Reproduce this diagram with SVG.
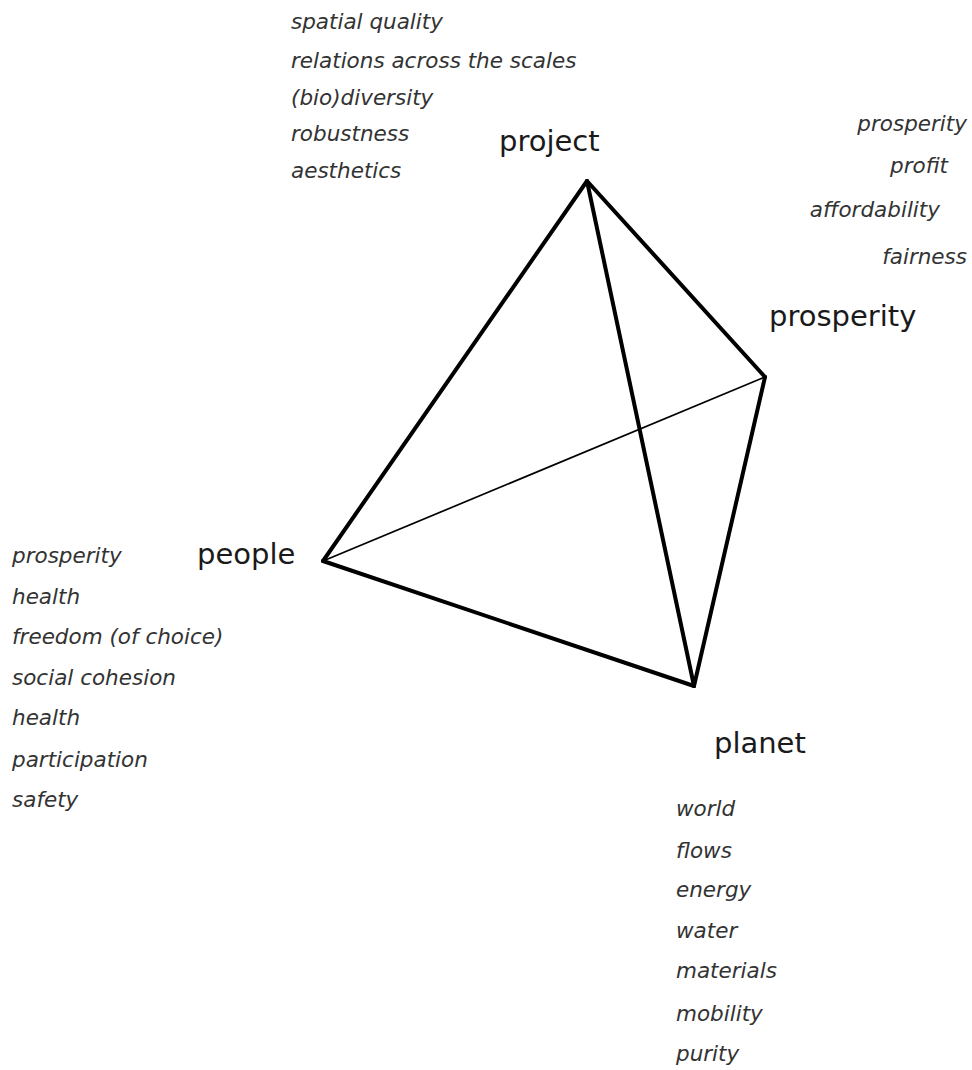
<svg xmlns="http://www.w3.org/2000/svg" width="972" height="1070" viewBox="0 0 972 1070">
<style>
.lbl{font-family:"DejaVu Sans",Verdana,sans-serif;font-size:29px;fill:#1a1a1a}
.it{font-family:"DejaVu Sans",Verdana,sans-serif;font-size:21.5px;font-style:italic;fill:#333}
.edge{stroke:#000;stroke-width:4;fill:none;stroke-linejoin:round;stroke-linecap:round}
.thin{stroke:#000;stroke-width:1.7;fill:none}
</style>
<rect width="972" height="1070" fill="#fff"/>
<g id="connectors">
<line class="thin" x1="323" y1="561" x2="765" y2="377"/>
<line class="edge" x1="587" y1="181" x2="323" y2="561"/>
<line class="edge" x1="587" y1="181" x2="765" y2="377"/>
<line class="edge" x1="587" y1="181" x2="694" y2="686"/>
<line class="edge" x1="323" y1="561" x2="694" y2="686"/>
<line class="edge" x1="765" y1="377" x2="694" y2="686"/>
</g>
<g id="project">
<text class="lbl" x="499" y="151">project</text>
<text class="it" x="291" y="29">spatial quality</text>
<text class="it" x="291" y="68">relations across the scales</text>
<text class="it" x="291" y="105">(bio)diversity</text>
<text class="it" x="291" y="141">robustness</text>
<text class="it" x="291" y="178">aesthetics</text>
</g>
<g id="prosperity">
<text class="lbl" x="769" y="326">prosperity</text>
<text class="it" x="967" y="131" text-anchor="end">prosperity</text>
<text class="it" x="948" y="173" text-anchor="end">profit</text>
<text class="it" x="940" y="217" text-anchor="end">affordability</text>
<text class="it" x="967" y="264" text-anchor="end">fairness</text>
</g>
<g id="people">
<text class="lbl" x="197" y="564">people</text>
<text class="it" x="12" y="563">prosperity</text>
<text class="it" x="12" y="604">health</text>
<text class="it" x="12" y="644">freedom (of choice)</text>
<text class="it" x="12" y="685">social cohesion</text>
<text class="it" x="12" y="725">health</text>
<text class="it" x="12" y="767">participation</text>
<text class="it" x="12" y="807">safety</text>
</g>
<g id="planet">
<text class="lbl" x="714" y="753">planet</text>
<text class="it" x="676" y="816">world</text>
<text class="it" x="676" y="858">flows</text>
<text class="it" x="676" y="897">energy</text>
<text class="it" x="676" y="938">water</text>
<text class="it" x="676" y="978">materials</text>
<text class="it" x="676" y="1021">mobility</text>
<text class="it" x="676" y="1061">purity</text>
</g>
</svg>
